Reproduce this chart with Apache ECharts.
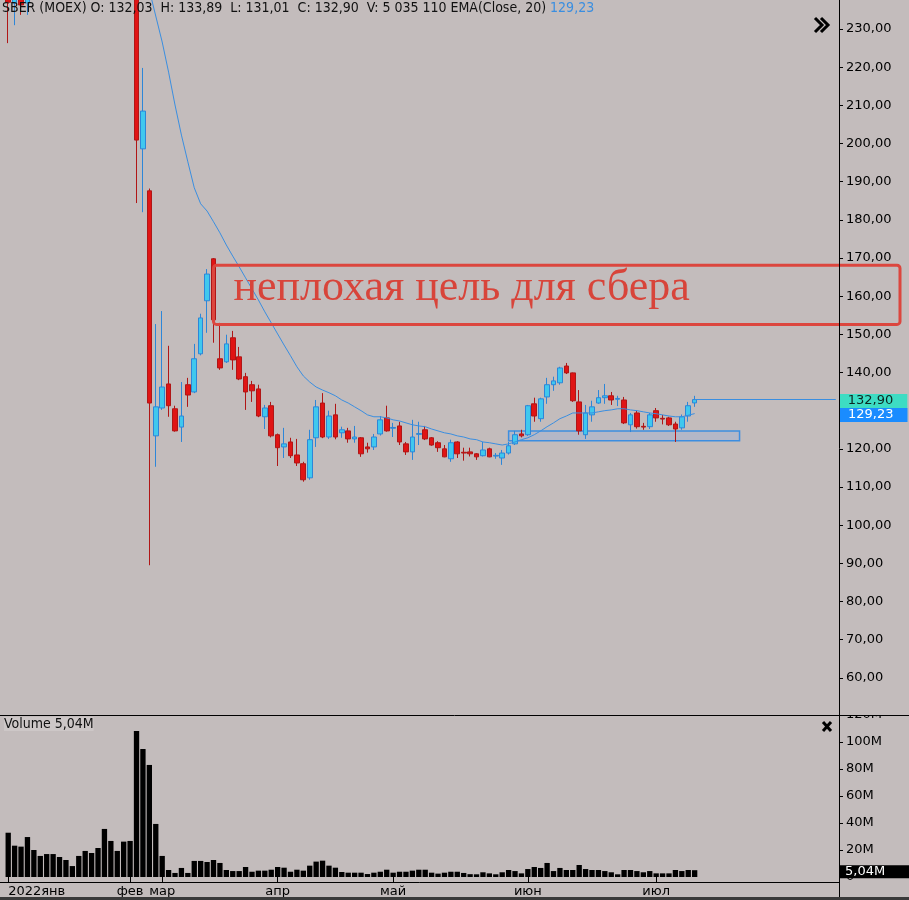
<!DOCTYPE html>
<html><head><meta charset="utf-8">
<script src="https://cdn.jsdelivr.net/npm/echarts@6/dist/echarts.min.js"></script>
<style>html,body{margin:0;padding:0;background:#c3bcbc}#c{width:909px;height:900px}</style>
</head><body><div id="c"></div>
<script>
// ---------- data ----------
const categories = Array.from({length: 130}, (_, i) => String(i)); // 108 sessions + empty space to the right
const monthTickIndex = [0, 19, 24, 42, 60, 81, 101];
const monthTickLabel = ['2022янв', 'фев', 'мар', 'апр', 'май', 'июн', 'июл'];

const opens = [242,236.8,243,236.8,240,246,252,249,256,262,265,262,268,272,270,275,266,262,265,261,
263,198.6,187.6,123.4,130.7,137.0,130.5,125.7,136.8,134.9,144.9,158.8,169.8,143.6,142.8,149.1,144.1,138.9,136.8,135.7,
128.4,131.3,123.7,120.5,121.8,118.4,116.1,112.4,122.9,132.0,123.1,128.9,124.2,124.7,122.6,122.9,120.5,120.5,123.9,128.1,
125.4,126.0,121.3,119.2,123.8,125.0,122.9,121.6,120.0,117.4,121.8,119.1,119.2,118.7,118.2,120.0,118.1,117.6,118.9,121.3,
123.9,123.7,131.8,127.9,133.6,136.8,137.3,141.7,139.9,132.3,123.7,128.9,132.0,133.4,133.9,133.0,132.8,126.3,129.4,125.9,
125.8,130.0,128.0,128.1,126.5,125.5,128.6,132.03];
const closes = [237,241,236.3,240,246,252,249,256,262,265,262,268,272,270,275,266,262,265,261,263,
200.9,208.5,132.0,131.0,136.2,131.3,124.7,128.6,134.1,143.6,154.3,165.8,153.8,141.2,147.5,143.3,138.3,134.9,135.2,128.6,
130.7,123.4,120.3,121.3,118.2,116.3,111.9,122.4,131.0,123.1,128.6,123.1,125.0,122.6,123.1,118.7,120.0,123.1,127.6,124.7,
125.6,121.8,119.2,123.1,124.0,122.6,121.0,120.3,117.9,121.6,118.7,118.9,118.7,117.9,119.7,117.9,118.3,118.9,120.8,123.7,
123.4,131.3,128.6,133.1,136.8,137.8,141.2,139.9,132.6,124.7,129.4,131.0,133.4,133.9,132.8,133.2,126.8,128.9,125.8,125.7,
128.9,128.1,127.8,126.3,125.2,128.4,131.3,132.90];
const lows = [226.3,231,233.7,233.7,239,244,247,248,254,259,260,261,266,267,268,262,258,260,257,255,
184.4,182.0,89.5,115.3,130.2,128.4,124.5,121.8,131.0,134.6,144.5,150.4,147.8,140.7,142.5,140.7,138.0,130.2,132.3,128.3,
125.2,123.0,115.5,117.6,117.6,115.5,111.4,111.9,120.5,122.8,122.6,122.5,122.9,121.6,121.6,117.9,119.0,119.7,123.5,124.5,
123.1,121.0,118.4,117.1,121.0,122.3,120.8,119.2,117.8,116.6,117.6,116.9,118.0,117.1,118.0,117.8,117.4,115.8,118.5,121.0,
123.0,123.4,127.1,127.1,131.8,135.2,136.8,139.6,132.3,123.7,122.6,127.1,131.8,131.8,131.5,131.2,126.5,124.4,125.3,125.0,
125.2,127.1,126.4,126.0,121.8,125.0,127.1,131.01];
const highs = [246,244,245,243,248,254,256,258,264,268,267,270,275,274,277,278,268,267,266,266,
265,219.8,188.2,152.7,156.1,147.0,131.3,137.5,138.6,147.5,155.4,167.1,170.0,153.0,149.9,150.9,146.7,139.9,137.8,136.8,
131.5,132.3,124.0,125.5,122.9,122.6,116.6,125.0,132.8,134.6,130.0,131.8,125.8,125.5,126.0,123.1,121.6,123.9,128.6,131.3,
126.8,127.1,121.8,127.6,127.1,126.0,123.1,122.0,121.0,122.4,122.0,120.3,120.3,118.9,121.8,120.3,118.9,119.7,121.8,124.7,
125.0,131.5,133.4,133.4,138.6,138.9,141.5,142.5,140.0,135.4,131.5,132.6,135.4,137.0,134.9,133.9,133.6,129.4,130.0,126.8,
129.4,130.7,128.9,128.4,127.1,129.0,132.3,133.89];
const volumesM = [32.8,23.2,22.5,29.6,20.0,15.6,17.0,17.0,14.8,12.6,8.1,15.6,19.3,17.8,21.5,35.6,26.7,19.3,26.2,26.7,
108.1,94.8,83.0,39.3,15.6,5.2,3.0,6.7,3.0,11.9,11.9,11.1,12.6,10.4,5.2,4.4,4.4,7.4,3.9,4.7,
4.7,5.4,7.4,6.9,3.9,5.4,4.7,8.4,11.4,12.1,8.4,6.9,3.7,3.2,3.2,3.2,2.2,3.2,3.9,5.4,
3.2,3.9,3.9,4.7,5.4,5.4,3.2,2.5,3.2,3.9,3.9,3.0,2.1,2.0,3.5,2.7,2.0,3.5,5.2,4.4,
2.7,5.9,7.4,6.7,10.4,4.4,6.7,5.2,5.2,8.9,5.9,5.2,5.2,4.4,3.5,2.0,5.2,5.2,4.4,3.5,
4.4,2.7,2.7,2.7,5.2,4.4,5.2,5.04];
const ema20 = [null,null,null,null,null,null,null,null,null,null,null,null,null,null,null,null,null,null,null,259.6,
254.0,247.3,240.2,233.4,226.6,218.7,210.1,202.2,195.2,188.4,184.2,182.3,179.5,176.6,173.4,170.5,167.7,164.8,161.9,159.0,
155.9,153.0,150.1,147.2,144.4,141.5,139.1,137.5,136.2,135.4,134.7,133.9,132.8,132.0,131.0,130.0,128.9,128.4,128.4,128.1,
127.6,127.3,126.8,126.3,126.0,125.8,125.2,124.7,124.2,123.9,123.4,123.1,122.6,122.4,121.8,121.6,121.3,121.0,121.3,121.8,
122.4,122.9,123.7,124.7,125.8,126.8,127.9,128.6,129.4,129.4,129.4,129.4,129.7,130.0,130.2,130.5,130.5,130.2,130.0,129.7,
129.4,129.2,128.9,128.6,128.4,128.4,128.8,129.23];
const lastVolumeRaw = 5035110;
const supportZone = {fromIndex: 78, toIndex: 114, top: 124.7, bottom: 122.1};
const targetZone = {fromIndex: 32, top: 168.1, bottom: 152.6};
const annotationText = 'неплохая цель для сбера';

// ---------- helpers ----------
const BG = '#c3bcbc';
const AF = 'DejaVu Sans';
const HFONT = '"DejaVu Sans Condensed", "Liberation Sans", sans-serif';
const fmt2 = v => v.toFixed(2).replace('.', ',');
const fmtVol = v => v === 0 ? '0' : (Math.round(v / 1e4) / 100).toString().replace('.', ',') + 'M';
const last = opens.length - 1;
const candleData = opens.map((o, i) => [o, closes[i], lows[i], highs[i]]);
const volData = volumesM.map(v => v * 1e6);
const lastEma = ema20[last];
const volStr = String(lastVolumeRaw).replace(/\B(?=(\d{3})+(?!\d))/g, ' ');
const NOLINE = {color: 'rgba(0,0,0,0)', width: 0};

const chart = echarts.init(document.getElementById('c'));
const option = {
  backgroundColor: BG,
  animation: false,
  grid: [
    {left: 5, right: 70, top: 0, height: 716},
    {left: 5, right: 70, top: 715, height: 162}
  ],
  xAxis: [
    {type: 'category', data: categories, gridIndex: 0, boundaryGap: true, show: false},
    {type: 'category', data: categories, gridIndex: 1, boundaryGap: true, offset: 5,
      axisLine: {show: false},
      axisTick: {show: true, alignWithLabel: true, length: 5, interval: (i) => monthTickIndex.includes(i), lineStyle: {color: '#000'}},
      axisLabel: {interval: (i) => monthTickIndex.includes(i), alignMinLabel: 'left',
        formatter: (v, i) => monthTickLabel[monthTickIndex.indexOf(i)] || '',
        color: '#000', fontFamily: AF, fontSize: 13, margin: 3}
    }
  ],
  yAxis: [
    {type: 'value', gridIndex: 0, position: 'right', min: 50, max: 237.6, interval: 10,
      splitLine: {show: false}, axisLine: {show: false},
      axisTick: {show: true, length: 4, lineStyle: {color: '#000'}},
      axisLabel: {showMinLabel: false, showMaxLabel: false, formatter: fmt2, color: '#000', fontFamily: AF, fontSize: 13, margin: 7}},
    {type: 'value', gridIndex: 1, position: 'right', min: 0, max: 120e6, interval: 20e6,
      splitLine: {show: false}, axisLine: {show: false},
      axisTick: {show: true, length: 4, lineStyle: {color: '#000'}},
      axisLabel: {formatter: fmtVol, color: '#000', fontFamily: AF, fontSize: 13, margin: 7}}
  ],
  series: [
    {type: 'candlestick', xAxisIndex: 0, yAxisIndex: 0, data: candleData, barWidth: '80%',
      itemStyle: {color: '#40c8ee', color0: '#e01414', borderColor: '#2d86d8', borderColor0: '#b01616', borderWidth: 1},
      markArea: {silent: true,
        itemStyle: {color: 'rgba(150,176,222,0.35)', borderColor: '#3d8ee0', borderWidth: 1.5},
        data: [[{coord: [supportZone.fromIndex, supportZone.top]}, {coord: [supportZone.toIndex, supportZone.bottom]}]]},
      markLine: {silent: true, symbol: ['none', 'none'],
        lineStyle: {color: '#3a8ee0', width: 1, type: 'solid'},
        label: {show: true, position: 'end', distance: 4, formatter: () => fmt2(closes[last]),
          backgroundColor: '#3ddcc3', color: '#0d2620', fontFamily: AF, fontSize: 13, lineHeight: 14,
          padding: [0, 14, 0, 8], offset: [0, 1.5]},
        data: [[{coord: [last, closes[last]]}, {coord: [categories.length - 1, closes[last]]}]]}
    },
    {type: 'line', xAxisIndex: 0, yAxisIndex: 0, data: ema20, symbol: 'none', showSymbol: false,
      lineStyle: {color: '#3a8ee0', width: 1}, z: 3,
      markLine: {silent: true, symbol: ['none', 'none'],
        lineStyle: NOLINE,
        label: {show: true, position: 'end', distance: 1, formatter: () => fmt2(lastEma),
          backgroundColor: '#1a8cff', color: '#fff', fontFamily: AF, fontSize: 13, lineHeight: 14,
          padding: [0, 14, 0, 8], offset: [0, 1.3]},
        data: [{yAxis: lastEma}]}
    },
    {type: 'bar', xAxisIndex: 1, yAxisIndex: 1, data: volData, barWidth: '83%',
      itemStyle: {color: '#000'},
      markLine: {silent: true, symbol: ['none', 'none'],
        lineStyle: NOLINE,
        label: {show: true, position: 'end', distance: 1, formatter: () => fmtVol(volData[last]),
          backgroundColor: '#000', color: '#fff', fontFamily: AF, fontSize: 13, lineHeight: 13,
          padding: [0, 24, 0, 5], offset: [0, 1.5]},
        data: [{yAxis: volData[last]}]}
    }
  ]
};
chart.setOption(option);

// ---------- overlays (positions derived from axes) ----------
const W = chart.getWidth();
const gridRight = W - 70;
const sepY = 715.5;
const xAxisY = 882.5;
const boxL = chart.convertToPixel({xAxisIndex: 0}, targetZone.fromIndex);
const boxT = chart.convertToPixel({yAxisIndex: 0}, targetZone.top);
const boxB = chart.convertToPixel({yAxisIndex: 0}, targetZone.bottom);
const boxR = W - 9;

chart.setOption({
  graphic: [
    // cover upper half of the "120M" label (hidden behind the price pane)
    {type: 'rect', z: 100, shape: {x: gridRight + 1, y: 700, width: 70, height: sepY - 700}, style: {fill: BG}},
    {type: 'line', z: 101, shape: {x1: 0, y1: sepY, x2: W, y2: sepY}, style: {stroke: '#000', lineWidth: 1}},
    {type: 'line', z: 101, shape: {x1: gridRight + 0.5, y1: 0, x2: gridRight + 0.5, y2: 897}, style: {stroke: '#000', lineWidth: 1}},
    {type: 'line', z: 101, shape: {x1: 0, y1: xAxisY, x2: gridRight + 0.5, y2: xAxisY}, style: {stroke: '#000', lineWidth: 1}},
    {type: 'rect', z: 101, shape: {x: 0, y: 897, width: W, height: 3}, style: {fill: '#3a3a3a'}},
    // header
    {type: 'text', z: 102, x: 2, y: 1, style: {
      text: '{a|SBER (MOEX) O: ' + fmt2(opens[last]) + '  H: ' + fmt2(highs[last]) + '  L: ' + fmt2(lows[last]) +
            '  C: ' + fmt2(closes[last]) + '  V: ' + volStr + ' EMA(Close, 20) }{b|' + fmt2(lastEma) + '}',
      rich: {a: {fill: '#111', font: '14px ' + HFONT}, b: {fill: '#3a8ee0', font: '14px ' + HFONT}}
    }},
    // >> icon
    {type: 'polyline', z: 102, shape: {points: [[815, 18], [822, 25], [815, 32]]}, style: {stroke: '#000', lineWidth: 3, fill: null}},
    {type: 'polyline', z: 102, shape: {points: [[821, 18], [828, 25], [821, 32]]}, style: {stroke: '#000', lineWidth: 3, fill: null}},
    // volume pane title and close icon
    {type: 'text', z: 102, x: 4, y: 717, style: {text: 'Volume ' + fmtVol(volData[last]), fill: '#111', font: '14px ' + HFONT,
      backgroundColor: 'rgba(215,210,210,0.5)'}},
    {type: 'line', z: 102, shape: {x1: 823, y1: 722, x2: 831, y2: 731}, style: {stroke: '#000', lineWidth: 3}},
    {type: 'line', z: 102, shape: {x1: 831, y1: 722, x2: 823, y2: 731}, style: {stroke: '#000', lineWidth: 3}},
    // annotation
    {type: 'rect', z: 90, shape: {x: boxL, y: boxT, width: boxR - boxL, height: boxB - boxT, r: 3},
      style: {fill: null, stroke: '#dc463e', lineWidth: 3}},
    {type: 'text', z: 91, x: boxL + 20, y: (boxT + boxB) / 2 - 6, style: {
      text: annotationText, fill: '#d8443a', font: '44px "Liberation Serif"', verticalAlign: 'middle', align: 'left'}}
  ]
});
</script></body></html>
